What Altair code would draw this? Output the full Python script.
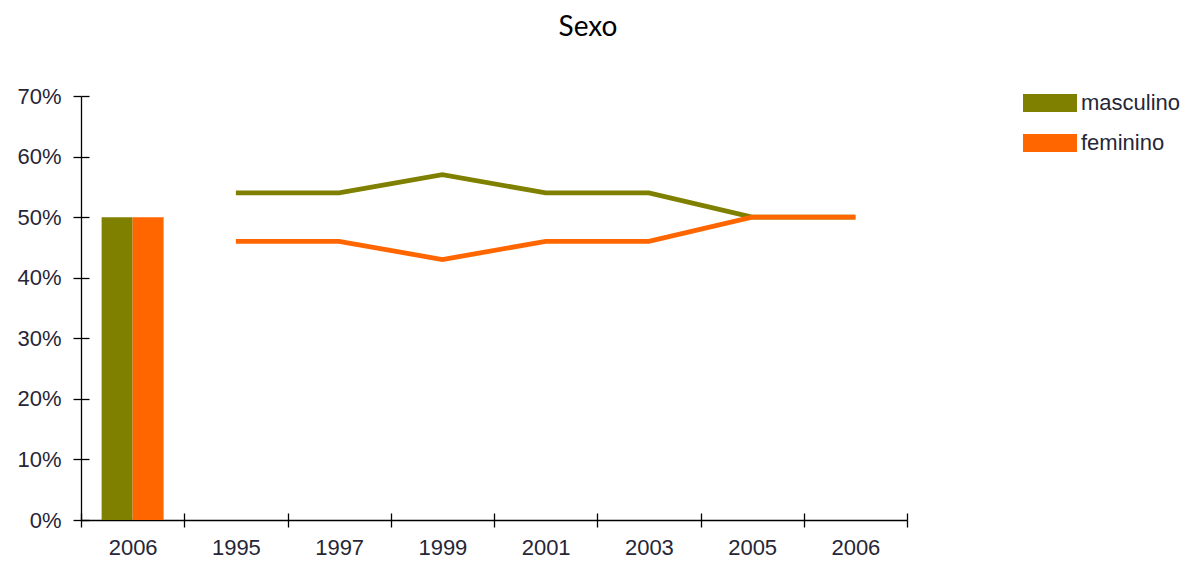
import altair as alt
import pandas as pd

# ---- data ----
bar_key = "b2006"            # first category (bars), labelled "2006"
series = ["masculino", "feminino"]
bar_values = [50, 50]
years = ["1995", "1997", "1999", "2001", "2003", "2005", "2006"]
masculino = [54, 54, 57, 54, 54, 50, 50]
feminino = [46, 46, 43, 46, 46, 50, 50]
y_ticks = [0, 10, 20, 30, 40, 50, 60, 70]
colors = ["#808000", "#ff6600"]

domain_keys = [bar_key] + years

bars_df = pd.DataFrame({"key": [bar_key, bar_key], "serie": series, "v": bar_values})
masc_df = pd.DataFrame({"key": years, "serie": "masculino", "v": masculino})
fem_df = pd.DataFrame({"key": years, "serie": "feminino", "v": feminino})

LABEL_FONT = "Liberation Sans"
LABEL_COLOR = "#262637"
INNER = "#000000"

xscale = alt.Scale(domain=domain_keys, paddingInner=0, paddingOuter=0)
yscale = alt.Scale(domain=[0, 70], nice=False, zero=True)
cscale = alt.Scale(domain=series, range=colors)

x_main = alt.Axis(
    title=None, tickBand="extent", tickSize=7, tickColor="#000", tickWidth=1.3,
    domainColor="#000", domainWidth=1.3, labelFont=LABEL_FONT, labelFontSize=22,
    labelColor=LABEL_COLOR, labelPadding=10, labelAngle=0,
    labelExpr="datum.value == 'b2006' ? '2006' : datum.value",
)
y_main = alt.Axis(
    title=None, values=y_ticks, tickSize=8, tickColor="#000", tickWidth=1.3,
    domainColor="#000", domainWidth=1.3, labelFont=LABEL_FONT, labelFontSize=22,
    labelColor=LABEL_COLOR, labelPadding=12, grid=False,
    labelExpr="datum.value + '%'",
)
x_inner = alt.Axis(
    title=None, orient="bottom", offset=-7, tickBand="extent", tickSize=7,
    tickColor=INNER, tickWidth=1.3, domain=False, labels=False, grid=False,
)
y_inner = alt.Axis(
    title=None, orient="left", offset=-8, values=y_ticks, tickSize=8,
    tickColor=INNER, tickWidth=1.3, domain=False, labels=False, grid=False,
)

legend = alt.Legend(
    title=None, orient="none", legendX=942, legendY=-20,
    symbolType="M-1,-0.333L1,-0.333L1,0.333L-1,0.333Z", symbolSize=2916,
    symbolStrokeWidth=0, labelFont=LABEL_FONT, labelFontSize=22,
    labelColor=LABEL_COLOR, labelOffset=4, rowPadding=2,
)

bars = alt.Chart(bars_df).mark_bar(size=31).encode(
    x=alt.X("key:N", scale=xscale, axis=x_main, sort=domain_keys),
    xOffset=alt.XOffset("serie:N", sort=series,
                        scale=alt.Scale(domain=series, paddingInner=0, paddingOuter=0.665)),
    y=alt.Y("v:Q", scale=yscale, axis=y_main),
    color=alt.Color("serie:N", scale=cscale, legend=legend, sort=series),
)

line_m = alt.Chart(masc_df).mark_line(strokeWidth=4.8, strokeCap="butt").encode(
    x=alt.X("key:N", scale=xscale, axis=x_inner, sort=domain_keys),
    y=alt.Y("v:Q", scale=yscale, axis=y_inner),
    color=alt.Color("serie:N", scale=cscale, legend=None),
)

line_f = alt.Chart(fem_df).mark_line(strokeWidth=4.8, strokeCap="butt").encode(
    x=alt.X("key:N", scale=xscale, axis=None, sort=domain_keys),
    y=alt.Y("v:Q", scale=yscale, axis=None),
    color=alt.Color("serie:N", scale=cscale, legend=None),
)

chart = alt.layer(bars, line_m, line_f).resolve_axis(
    x="independent", y="independent"
).properties(
    width=826, height=424,
    autosize=alt.AutoSizeParams(type="none"),
    padding={"left": 73, "top": 88, "right": 279, "bottom": 38},
    title=alt.TitleParams(
        "Sexo", font="Lato", fontSize=28, fontWeight="normal", color="#000",
        anchor="middle", frame="group", dx=94, offset=34,
    ),
).configure_view(stroke=None)

chart.save("out.html", embed_options={"renderer": "svg", "actions": False})
